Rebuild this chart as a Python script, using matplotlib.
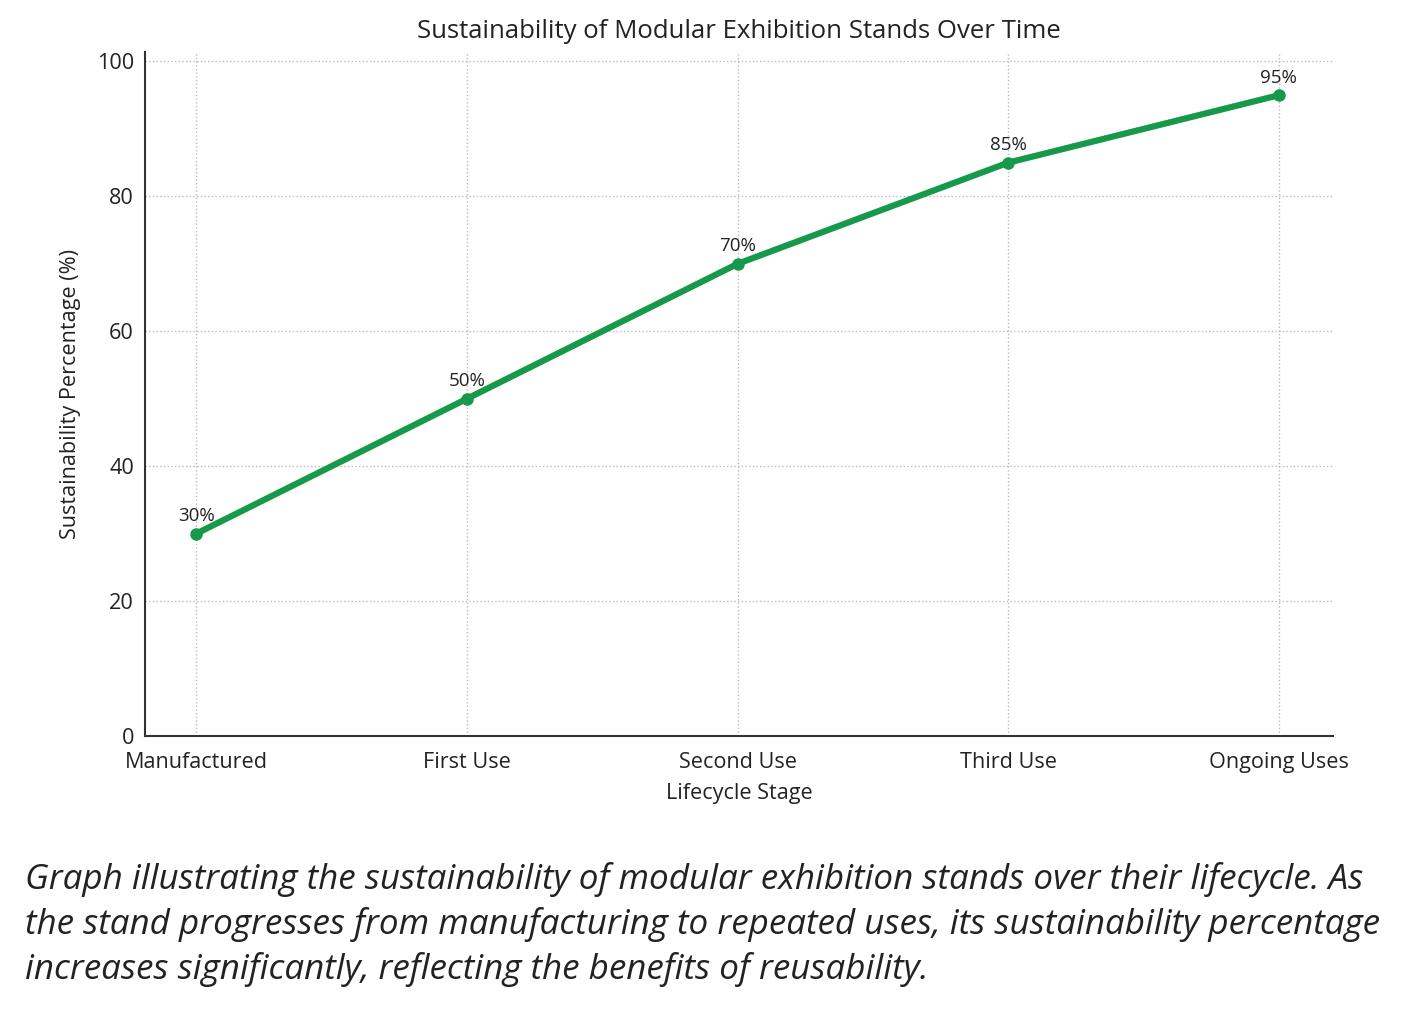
import matplotlib
matplotlib.use("Agg")
import matplotlib.pyplot as plt

stages = ["Manufactured", "First Use", "Second Use", "Third Use", "Ongoing Uses"]
sustainability = [30, 50, 70, 85, 95]
y_ticks = [0, 20, 40, 60, 80, 100]

caption = ("Graph illustrating the sustainability of modular exhibition stands over their lifecycle. As\n"
           "the stand progresses from manufacturing to repeated uses, its sustainability percentage\n"
           "increases significantly, reflecting the benefits of reusability.")

plt.rcParams['font.family'] = ['Open Sans', 'DejaVu Sans']
green = "#16994a"
text_col = "#222222"

fig = plt.figure(figsize=(14.1, 10.14), dpi=100)
ax = fig.add_axes([0.1028, 0.2742, 0.8426, 0.6745])

x = list(range(len(stages)))
ax.plot(x, sustainability, color=green, linewidth=4.5, marker="o", markersize=8, zorder=3)
for xi, v in zip(x, sustainability):
    ax.annotate(f"{v}%", (xi, v), xytext=(0, 6), textcoords="offset points",
                ha="center", va="bottom", fontsize=13.5, color=text_col)

ax.set_xlim(-0.19, 4.2)
ax.set_ylim(0, 101.4)
ax.set_xticks(x)
ax.set_xticklabels(stages)
ax.set_yticks(y_ticks)
ax.tick_params(length=0, labelsize=15.6, colors=text_col, pad=8)
ax.tick_params(axis="x", pad=11.5)
ax.grid(True, linestyle=":", color="#bbbbbb", linewidth=1)
ax.set_axisbelow(True)
for side in ["top", "right"]:
    ax.spines[side].set_visible(False)
for side in ["left", "bottom"]:
    ax.spines[side].set_color("#333333")
    ax.spines[side].set_linewidth(1.5)

ax.set_xlabel("Lifecycle Stage", fontsize=15.6, color=text_col, labelpad=7)
ax.set_ylabel("Sustainability Percentage (%)", fontsize=15.6, color=text_col, labelpad=11.5)
ax.set_title("Sustainability of Modular Exhibition Stands Over Time", fontsize=18.5, color=text_col, pad=10)

fig.text(0.018, 0.150, caption, fontsize=25.2, style="italic", color=text_col,
         ha="left", va="top", linespacing=1.38)

fig.savefig("out.png", dpi=100)
